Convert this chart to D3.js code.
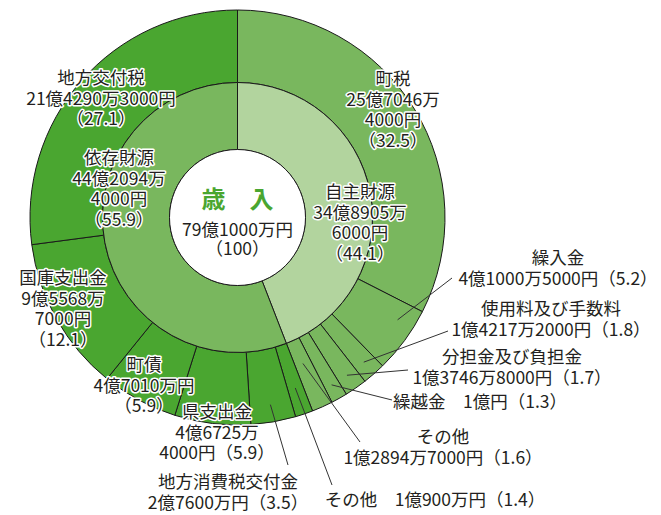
<!DOCTYPE html>
<html><head><meta charset="utf-8">
<script src="https://cdn.jsdelivr.net/npm/d3@7"></script>
<style>
html,body{margin:0;padding:0;background:#fff;}
text{font-family:"Noto Sans CJK JP","Noto Sans",sans-serif;}
</style></head>
<body><svg id="c" width="661" height="515"></svg>
<script>
// ---- data ----
const groupNames = ["自主財源", "依存財源"];
const groupValues = [348905.6, 442094.4]; // 万円
const groupPct = ["44.1", "55.9"];
const itemNames = ["町税", "繰入金", "使用料及び手数料", "分担金及び負担金", "繰越金", "その他",
                   "その他", "地方消費税交付金", "県支出金", "町債", "国庫支出金", "地方交付税"];
const itemGroups = [0,0,0,0,0,0, 1,1,1,1,1,1];
const itemValues = [257046.4, 41000.5, 14217.2, 13746.8, 10000, 12894.7,
                    10900, 27600, 46725.4, 47010, 95568.7, 214290.3]; // 万円
const itemPct = ["32.5","5.2","1.8","1.7","1.3","1.6","1.4","3.5","5.9","5.9","12.1","27.1"];
const totalLabel = ["歳　入", "79億1000万円", "（100）"];

// ---- label layout (text lines, anchor centre) ----
const groupLabels = [
  {lines:["自主財源","34億8905万","6000円","（44.1）"], x:360, y:192},
  {lines:["依存財源","44億2094万","4000円","（55.9）"], x:119, y:158}
];
const itemLabels = [
  {lines:["町税","25億7046万","4000円","（32.5）"], x:393, y:79},
  {lines:["繰入金","4億1000万5000円（5.2）"], x:558, y:258, lead:[0.3,190], to:[452,278]},
  {lines:["使用料及び手数料","1億4217万2000円（1.8）"], x:551, y:309, lead:[0.5,192], to:[448,331]},
  {lines:["分担金及び負担金","1億3746万8000円（1.7）"], x:512, y:357, lead:[0.5,192], to:[408,370]},
  {lines:["繰越金　1億円（1.3）"], x:480, y:402, lead:[0.5,192], to:[392,400]},
  {lines:["その他","1億2894万7000円（1.6）"], x:443, y:437, lead:[0.5,160], to:[360,442]},
  {lines:["その他　1億900万円（1.4）"], x:435, y:500, lead:[0.5,180], to:[332,485]},
  {lines:["地方消費税交付金","2億7600万円（3.5）"], x:228, y:482, lead:[0.5,190], to:[288,465]},
  {lines:["県支出金","4億6725万","4000円（5.9）"], x:217, y:412},
  {lines:["町債","4億7010万円","（5.9）"], x:144, y:365},
  {lines:["国庫支出金","9億5568万","7000円","（12.1）"], x:63, y:278},
  {lines:["地方交付税","21億4290万3000円","（27.1）"], x:101, y:78}
];

const cx = 237.5, cy = 217.5;
const rHole = 68, rMid = 135, rOut = 207.5;
const colLight = "#b2d49e", colMid = "#79b75e", colDark = "#4aa630";

const svg = d3.select("#c");
const g = svg.append("g").attr("transform", `translate(${cx},${cy})`);

const pie = d3.pie().sort(null).value(d => d);
const innerArcs = pie(groupValues);
const outerArcs = pie(itemValues);

const arcIn = d3.arc().innerRadius(rHole).outerRadius(rMid);
const arcOut = d3.arc().innerRadius(rMid).outerRadius(rOut);

g.selectAll("path.out").data(outerArcs).enter().append("path")
  .attr("class","out")
  .attr("d", arcOut)
  .attr("fill", (d,i) => itemGroups[i] === 0 ? colMid : colDark)
  .attr("stroke", "#1a1a1a").attr("stroke-width", 1);

g.selectAll("path.in").data(innerArcs).enter().append("path")
  .attr("class","in")
  .attr("d", arcIn)
  .attr("fill", (d,i) => i === 0 ? colLight : colMid)
  .attr("stroke", "#1a1a1a").attr("stroke-width", 1);

// centre white circle
g.append("circle").attr("r", rHole).attr("fill", "#fff").attr("stroke", "#1a1a1a").attr("stroke-width", 1);

// leader lines
itemLabels.forEach((L, i) => {
  if (!L.lead) return;
  const a = outerArcs[i];
  const ang = a.startAngle + (a.endAngle - a.startAngle) * L.lead[0];
  const r = L.lead[1];
  const x0 = cx + r * Math.sin(ang), y0 = cy - r * Math.cos(ang);
  svg.append("line").attr("x1", x0).attr("y1", y0).attr("x2", L.to[0]).attr("y2", L.to[1])
    .attr("stroke", "#333").attr("stroke-width", 1);
});

function drawLabel(L, lh) {
  const t = svg.append("text")
    .attr("text-anchor", "middle")
    .attr("font-size", 17.5)
    .attr("fill", "#231f20")
    .attr("stroke", "#fff").attr("stroke-width", 3).attr("stroke-linejoin","round")
    .attr("paint-order", "stroke");
  L.lines.forEach((s, k) => {
    t.append("tspan").attr("x", L.x).attr("y", L.y + 6 + k * lh).text(s);
  });
}
groupLabels.forEach(L => drawLabel(L, 20.5));
itemLabels.forEach(L => drawLabel(L, 20.5));

// centre title
svg.append("text").attr("x", cx).attr("y", 208).attr("text-anchor","middle")
  .attr("font-size", 24).attr("font-weight", "bold").attr("fill", colDark).text(totalLabel[0]);
svg.append("text").attr("x", cx).attr("y", 236).attr("text-anchor","middle")
  .attr("font-size", 17.5).attr("fill", "#231f20").text(totalLabel[1]);
svg.append("text").attr("x", cx).attr("y", 255).attr("text-anchor","middle")
  .attr("font-size", 17.5).attr("fill", "#231f20").text(totalLabel[2]);
</script></body></html>
